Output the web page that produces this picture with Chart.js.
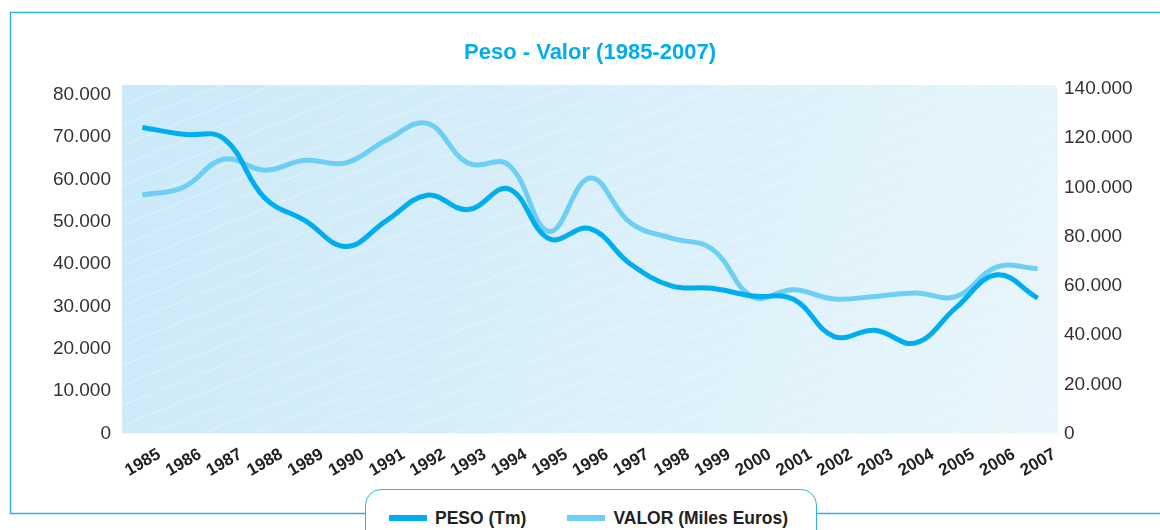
<!DOCTYPE html>
<html>
<head>
<meta charset="utf-8">
<script src="https://cdn.jsdelivr.net/npm/chart.js@4.4.1/dist/chart.umd.min.js"></script>
<style>
  html, body { margin: 0; padding: 0; background: #fff; overflow: hidden; }
  #wrap { width: 1160px; height: 530px; position: relative; overflow: hidden; }
  #legend {
    position: absolute; left: 365px; top: 489px; width: 452px; height: 60px;
    background: #fff; border: 1.2px solid #2db4e6; border-radius: 16px;
    box-sizing: border-box; display: flex; align-items: flex-start;
    padding: 18px 0 0 23px; white-space: nowrap;
    font: bold 17.5px 'Liberation Sans', Arial, sans-serif; color: #222;
  }
  .item { display: flex; flex-shrink: 0; align-items: center; margin-right: 41px; height: 20px; }
  .swatch { width: 38px; height: 6px; margin-right: 8px; flex-shrink: 0; }
</style>
</head>
<body>
<div id="wrap">
  <canvas id="chart" width="1160" height="530"></canvas>
  <div id="legend"></div>
</div>
<script>
// data
const years = ['1985', '1986', '1987', '1988', '1989', '1990', '1991', '1992', '1993', '1994', '1995', '1996',
    '1997', '1998', '1999', '2000', '2001', '2002', '2003', '2004', '2005', '2006', '2007'];
const peso = [72300, 70700, 69700, 55700, 50300, 44200, 50300, 56300, 52900, 57800, 46000, 48400,
    40000, 34900, 34300, 32500, 31700, 22900, 24400, 21400, 29800, 37500, 32000];
const valor = [96900, 100000, 111500, 107000, 111000, 110000, 119300, 126000, 109900, 109200, 82100, 103800,
    85500, 79400, 75000, 55500, 58400, 54700, 55700, 57100, 55700, 67700, 67000];
const pesoTicks = [0, 10000, 20000, 30000, 40000, 50000, 60000, 70000, 80000];
const valorTicks = [0, 20000, 40000, 60000, 80000, 100000, 120000, 140000];

const FONT = "'Liberation Sans', Arial, sans-serif";
const PESO_COLOR = '#00aeef';
const VALOR_COLOR = '#6dcff6';
const FRAME = '#2db4e6';

// 80.000 style labels
function fmt(v) {
    return String(v).replace(/\B(?=(\d{3})+(?!\d))/g, '.');
}

// frame and plot background
const decor = {
    id: 'decor',
    beforeDraw(chart) {
        const { ctx, chartArea: a } = chart;
        ctx.save();
        ctx.strokeStyle = FRAME;
        ctx.lineWidth = 1.5;
        ctx.beginPath();
        ctx.moveTo(chart.width, 12.5);
        ctx.lineTo(10.5, 12.5);
        ctx.lineTo(10.5, 513.5);
        ctx.lineTo(chart.width, 513.5);
        ctx.stroke();

        const top = a.top - 4;
        const g = ctx.createLinearGradient(a.left, top, a.right, a.bottom);
        g.addColorStop(0, '#cbe9f8');
        g.addColorStop(1, '#e9f6fc');
        ctx.beginPath();
        ctx.roundRect(a.left, top, a.width, a.bottom - top, [0, 5, 0, 0]);
        ctx.fillStyle = g;
        ctx.fill();
        ctx.clip();
        ctx.strokeStyle = 'rgba(255,255,255,0.35)';
        ctx.lineWidth = 1;
        for (let y = top - 400; y < a.bottom + 400; y += 20) {
            ctx.beginPath();
            ctx.moveTo(a.left, y + 0.5);
            ctx.lineTo(a.right, y - a.width * 0.4 + 0.5);
            ctx.stroke();
        }
        ctx.restore();
    }
};

const chart = new Chart(document.getElementById('chart'), {
    type: 'line',
    data: {
        labels: years,
        datasets: [{
            label: 'PESO (Tm)',
            data: peso,
            yAxisID: 'yPeso',
            borderColor: PESO_COLOR,
            backgroundColor: PESO_COLOR,
            borderWidth: 5,
            pointRadius: 0,
            tension: 0.4
        }, {
            label: 'VALOR (Miles Euros)',
            data: valor,
            yAxisID: 'yValor',
            borderColor: VALOR_COLOR,
            backgroundColor: VALOR_COLOR,
            borderWidth: 5,
            pointRadius: 0,
            tension: 0.4
        }]
    },
    options: {
        responsive: false,
        animation: false,
        layout: { padding: 0 },
        plugins: {
            title: {
                display: true,
                text: 'Peso - Valor (1985-2007)',
                color: PESO_COLOR,
                fullSize: false,
                font: { family: FONT, size: 22, weight: 'bold' },
                padding: { top: 40, bottom: 22.6 }
            },
            legend: { display: false },
            tooltip: { enabled: false }
        },
        scales: {
            x: {
                offset: true,
                grid: { display: false, drawTicks: false },
                border: { display: false },
                ticks: {
                    minRotation: 30,
                    maxRotation: 30,
                    autoSkip: false,
                    labelOffset: 17,
                    padding: 11,
                    color: '#222',
                    font: { family: FONT, size: 17, weight: 'bold' }
                },
                afterFit: s => { s.height = 96.5; }
            },
            yPeso: {
                position: 'left',
                min: 0,
                max: 81400,
                grid: { display: false, drawTicks: false },
                border: { display: false },
                afterBuildTicks: s => { s.ticks = pesoTicks.map(v => ({ value: v })); },
                afterFit: s => { s.width = 122; },
                ticks: {
                    padding: 11,
                    color: '#333',
                    font: { family: FONT, size: 19 },
                    callback: v => fmt(v)
                }
            },
            yValor: {
                position: 'right',
                min: 0,
                max: 140000,
                grid: { display: false, drawTicks: false },
                border: { display: false },
                afterBuildTicks: s => { s.ticks = valorTicks.map(v => ({ value: v })); },
                afterFit: s => { s.width = 102; },
                ticks: {
                    padding: 6,
                    color: '#333',
                    font: { family: FONT, size: 19 },
                    callback: v => fmt(v)
                }
            }
        }
    },
    plugins: [decor]
});

// legend in a rounded box over the bottom frame line
const legend = document.getElementById('legend');
chart.data.datasets.forEach(ds => {
    const item = document.createElement('div');
    item.className = 'item';
    item.innerHTML = `<span class="swatch" style="background:${ds.borderColor}"></span><span>${ds.label}</span>`;
    legend.appendChild(item);
});
</script>
</body>
</html>
